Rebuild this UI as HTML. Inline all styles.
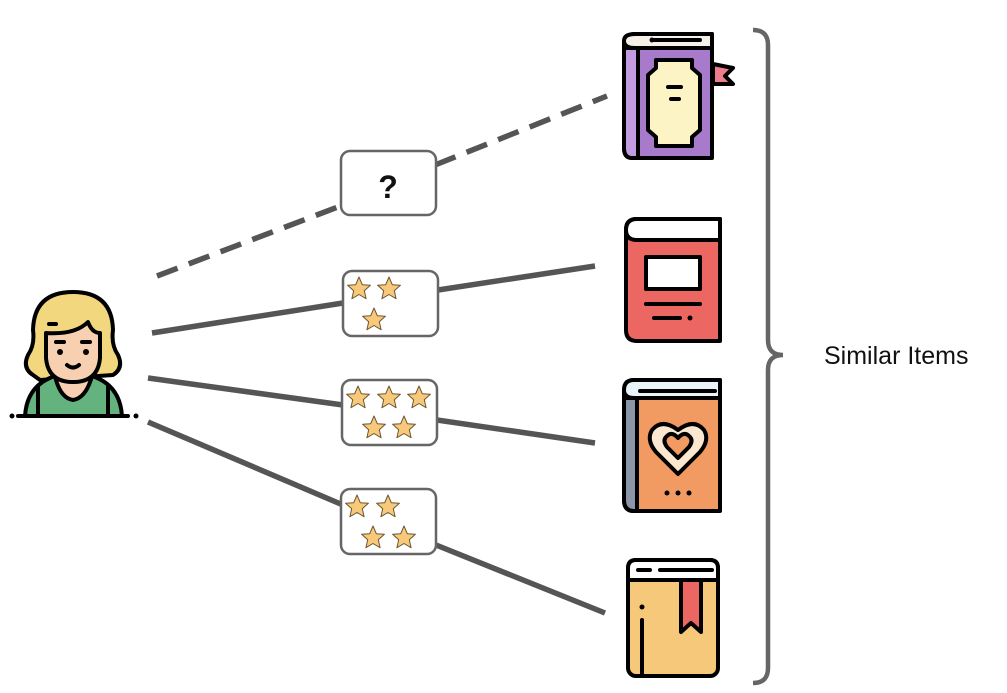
<!DOCTYPE html>
<html><head><meta charset="utf-8"><style>
html,body{margin:0;padding:0;background:#fff;}
svg{display:block;}
</style></head><body>
<svg width="1007" height="693" viewBox="0 0 1007 693" xmlns="http://www.w3.org/2000/svg">
<defs>
<path id="st" d="M0,-12 L3.3,-4.3 L11.4,-3.7 L5.3,1.7 L7.1,9.7 L0,5.5 L-7.1,9.7 L-5.3,1.7 L-11.4,-3.7 L-3.3,-4.3 Z" fill="#F8C97B" stroke="#6b5530" stroke-width="1" stroke-linejoin="round"/>
</defs>
<g stroke="#555" stroke-width="5.5" fill="none" stroke-linecap="butt">
<line x1="157" y1="276" x2="343" y2="205" stroke-dasharray="22,12"/>
<line x1="435" y1="165" x2="607" y2="96" stroke-dasharray="22,12"/>
<line x1="152" y1="333" x2="343" y2="303"/>
<line x1="438" y1="290" x2="595" y2="266"/>
<line x1="148" y1="378" x2="343" y2="405"/>
<line x1="437" y1="420" x2="595" y2="443"/>
<line x1="148" y1="422" x2="343" y2="505"/>
<line x1="436" y1="545" x2="605" y2="613"/>
</g>
<g fill="#fff" stroke="#666" stroke-width="2.5">
<rect x="341" y="151" width="95" height="64" rx="9"/>
<rect x="343" y="271" width="95" height="65" rx="9"/>
<rect x="342" y="380" width="95" height="65" rx="9"/>
<rect x="341" y="489" width="95" height="65" rx="9"/>
</g>
<text x="388" y="198" font-family="Liberation Sans, sans-serif" font-weight="bold" font-size="32" text-anchor="middle" fill="#111">?</text>
<use href="#st" x="359" y="289"/><use href="#st" x="389" y="289"/><use href="#st" x="374" y="320"/>
<use href="#st" x="358" y="398"/><use href="#st" x="389" y="398"/><use href="#st" x="419" y="398"/><use href="#st" x="374" y="428"/><use href="#st" x="404" y="428"/>
<use href="#st" x="357" y="507"/><use href="#st" x="388" y="507"/><use href="#st" x="373" y="538"/><use href="#st" x="404" y="538"/>

<!-- person -->
<g stroke="#000" stroke-width="4" stroke-linejoin="round" stroke-linecap="round">
<path d="M33,375 Q22,368 28,355 Q35,345 33,330 Q34,292 73,292 Q112,292 113,330 Q111,345 118,355 Q124,368 113,375 L40,380 Z" fill="#F3D77F"/>
<path d="M25,416 Q27,385 55,376 L92,376 Q120,385 122,416 Z" fill="#64B37F"/>
<path d="M55,376 Q60,398 73,400 Q86,398 92,376" fill="#F6D0B0"/>
<line x1="38" y1="387" x2="38" y2="416"/><line x1="108" y1="387" x2="108" y2="416"/>
<path d="M46,333 L46,358 Q48,382 73,382 Q98,382 100,358 L100,333 Q92,333 88,322 Q75,335 46,333 Z" fill="#F6D0B0"/>
<line x1="49" y1="324" x2="56" y2="324"/>
<line x1="56" y1="342" x2="64" y2="342"/><line x1="82" y1="342" x2="90" y2="342"/>
<path d="M67,365 Q73,370 79,365" fill="none"/>
<line x1="18" y1="416" x2="128" y2="416"/>
</g>
<g fill="#000"><circle cx="60" cy="352" r="3"/><circle cx="86" cy="352" r="3"/><circle cx="12" cy="416" r="2.5"/><circle cx="136" cy="416" r="2.5"/></g>

<g stroke="#000" stroke-width="4" stroke-linejoin="round" stroke-linecap="round">
<!-- purple book -->
<path d="M713,64 L733,68 L725,76 L733,84 L713,84 Z" fill="#EE7C8A"/>
<path d="M635,34 L712,34 L712,158 L635,158 Q624,158 624,148 L624,44 Q624,34 635,34 Z" fill="#A77ACC"/>
<path d="M624,48 L638,48 L638,158 L632,158 Q624,158 624,148 Z" fill="#C39BE0"/>
<path d="M635,34 L712,34 L712,48 L635,48 Q624,48 624,41 Q624,34 635,34 Z" fill="#F7F0E8"/>
<path d="M656,60 L692,60 L692,68 L700,75 L700,130 L692,137 L692,146 L656,146 L656,137 L648,130 L648,75 L656,68 Z" fill="#FDF4C5"/>
<line x1="668" y1="87" x2="681" y2="87"/><line x1="671" y1="99" x2="679" y2="99"/>
<line x1="653" y1="40" x2="700" y2="40"/>
<!-- red book -->
<path d="M637,219 L720,219 L720,341 L637,341 Q626,341 626,330 L626,230 Q626,219 637,219 Z" fill="#EC6762"/>
<path d="M637,219 L720,219 L720,240 L637,240 Q626,240 626,230 Q626,219 637,219 Z" fill="#fff"/>
<rect x="646" y="257" width="54" height="32" fill="#fff"/>
<line x1="646" y1="304" x2="700" y2="304"/><line x1="654" y1="318" x2="680" y2="318"/>
<!-- orange book -->
<path d="M634,380 L720,380 L720,511 L634,511 Q624,511 624,500 L624,392 Q624,380 634,380 Z" fill="#F19A62"/>
<path d="M624,398 L637,398 L637,511 L634,511 Q624,511 624,500 Z" fill="#8B96A8"/>
<path d="M634,380 L720,380 L720,398 L634,398 Q624,398 624,390 Q624,380 634,380 Z" fill="#E8F3FA"/>
<line x1="640" y1="391" x2="715" y2="391"/>
<path d="M678,474 L656,452 Q646,440 652,430 Q662,418 678,430 Q694,418 704,430 Q710,440 700,452 Z" fill="#FBE7D0"/>
<path d="M678,458 L667,447 Q662,440 667,436 Q672,431 678,438 Q684,431 689,436 Q694,440 689,447 Z" fill="#F19A62"/>
</g>
<g fill="#000"><circle cx="667" cy="493" r="2.5"/><circle cx="678" cy="493" r="2.5"/><circle cx="689" cy="493" r="2.5"/><circle cx="652" cy="40" r="2.5"/><circle cx="690" cy="318" r="2.5"/></g>
<g stroke="#000" stroke-width="4" stroke-linejoin="round" stroke-linecap="round">
<!-- yellow book -->
<rect x="628" y="560" width="90" height="116" rx="8" fill="#F6C879"/>
<path d="M636,560 L710,560 Q718,560 718,568 L718,580 L628,580 L628,568 Q628,560 636,560 Z" fill="#fff"/>
<line x1="638" y1="570" x2="650" y2="570"/><line x1="660" y1="570" x2="712" y2="570"/>
<path d="M681,580 L701,580 L701,632 L691,623 L681,632 Z" fill="#EC6762"/>
<line x1="642" y1="620" x2="642" y2="676"/>
</g>
<circle cx="642" cy="607" r="2.5" fill="#000"/>

<path d="M753,30 Q768,30 768,45 L768,340 Q768,355 783,355 Q768,355 768,370 L768,668 Q768,683 753,683" fill="none" stroke="#666" stroke-width="4.5"/>
<text x="824" y="364" font-family="Liberation Sans, sans-serif" font-size="25" fill="#111">Similar Items</text>
</svg>
</body></html>
